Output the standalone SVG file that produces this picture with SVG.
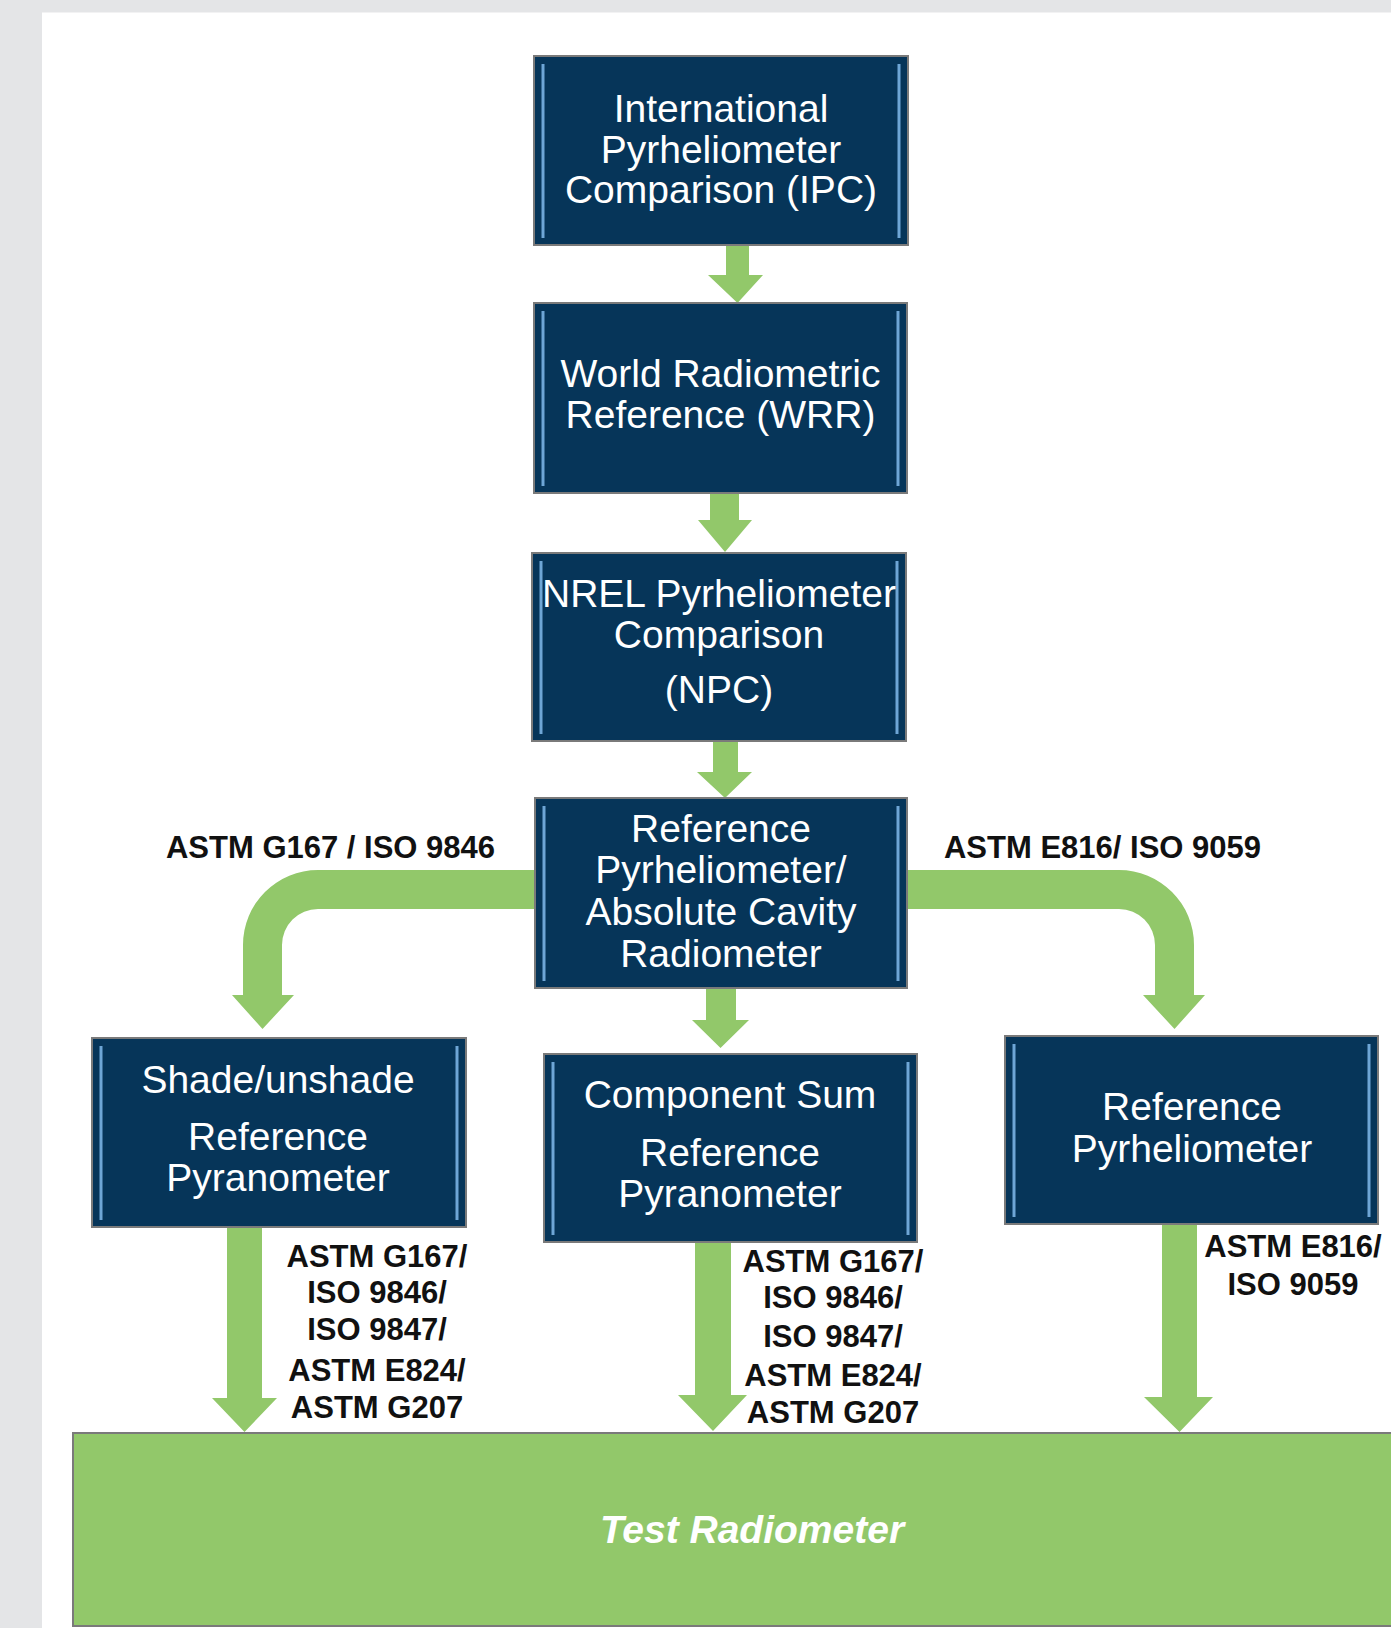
<svg xmlns="http://www.w3.org/2000/svg" width="1391" height="1628" viewBox="0 0 1391 1628">
<defs>
<style>
.box{fill:#063559;stroke:#7a7a7a;stroke-width:2}
.hl{stroke:#6ea6d6;stroke-width:3;fill:none}
.bt{font-family:"Liberation Sans",Arial,sans-serif;font-size:39px;fill:#ffffff;text-anchor:middle}
.lb{font-family:"Liberation Sans",Arial,sans-serif;font-size:31px;font-weight:bold;fill:#111111;text-anchor:middle}
.arrow{fill:#92c86a}
.test{fill:#92c86a;stroke:#7a7a7a;stroke-width:2}
.tt{font-family:"Liberation Sans",Arial,sans-serif;font-size:39px;font-weight:bold;font-style:italic;fill:#ffffff;text-anchor:middle}
</style>
</defs>
<rect x="0" y="0" width="1391" height="1628" fill="#e4e5e7"/>
<rect x="42" y="12.5" width="1349" height="1616" fill="#ffffff"/>

<g id="connectors">
<polygon class="arrow" points="726,245 749,245 749,275 763,275 737.5,303 708,275 726,275"/>
<polygon class="arrow" points="710,493 739,493 739,520 752,520 725,552 698,520 710,520"/>
<polygon class="arrow" points="713,741 738,741 738,772 752,772 725,798 697,772 713,772"/>
<polygon class="arrow" points="706,988 736,988 736,1020 749,1020 720.5,1048 692,1020 706,1020"/>
<path class="arrow" d="M 534 870 L 318 870 A 75 75 0 0 0 243 945 L 243 995 L 232 995 L 262.5 1029 L 294 995 L 282 995 L 282 945 A 36 36 0 0 1 318 909 L 534 909 Z"/>
<path class="arrow" d="M 906 870 L 1119 870 A 75 75 0 0 1 1194 945 L 1194 995 L 1205 995 L 1174.5 1029 L 1143 995 L 1155 995 L 1155 945 A 36 36 0 0 0 1119 909 L 906 909 Z"/>
<polygon class="arrow" points="227,1227 262,1227 262,1398 277,1398 244.5,1432 212,1398 227,1398"/>
<polygon class="arrow" points="695,1242 731,1242 731,1395 747,1395 713,1431 678,1395 695,1395"/>
<polygon class="arrow" points="1162,1224 1197,1224 1197,1397 1213,1397 1179.5,1432 1144,1397 1162,1397"/>
<text class="lb" x="330.5" y="858">ASTM G167 / ISO 9846</text>
<text class="lb" x="1102.5" y="858">ASTM E816/ ISO 9059</text>
<text class="lb" x="377" y="1267">ASTM G167/</text>
<text class="lb" x="377" y="1303">ISO 9846/</text>
<text class="lb" x="377" y="1340">ISO 9847/</text>
<text class="lb" x="377" y="1381">ASTM E824/</text>
<text class="lb" x="377" y="1418">ASTM G207</text>
<text class="lb" x="833" y="1272">ASTM G167/</text>
<text class="lb" x="833" y="1308">ISO 9846/</text>
<text class="lb" x="833" y="1347">ISO 9847/</text>
<text class="lb" x="833" y="1386">ASTM E824/</text>
<text class="lb" x="833" y="1423">ASTM G207</text>
<text class="lb" x="1293" y="1257">ASTM E816/</text>
<text class="lb" x="1293" y="1295">ISO 9059</text>
</g>

<g id="ipc">
<rect class="box" x="534" y="56" width="374" height="189"/>
<line class="hl" x1="543" y1="64" x2="543" y2="238"/>
<line class="hl" x1="899" y1="64" x2="899" y2="238"/>
<text class="bt" x="721" y="122">International</text>
<text class="bt" x="721" y="163">Pyrheliometer</text>
<text class="bt" x="721" y="203">Comparison (IPC)</text>
</g>

<g id="wrr">
<rect class="box" x="534" y="303" width="373" height="190"/>
<line class="hl" x1="543" y1="311" x2="543" y2="486"/>
<line class="hl" x1="898" y1="311" x2="898" y2="486"/>
<text class="bt" x="720.5" y="387">World Radiometric</text>
<text class="bt" x="720.5" y="428">Reference (WRR)</text>
</g>

<g id="npc">
<rect class="box" x="532" y="553" width="374" height="188"/>
<line class="hl" x1="541" y1="561" x2="541" y2="734"/>
<line class="hl" x1="897" y1="561" x2="897" y2="734"/>
<text class="bt" x="719" y="607">NREL Pyrheliometer</text>
<text class="bt" x="719" y="648">Comparison</text>
<text class="bt" x="719" y="703">(NPC)</text>
</g>

<g id="acr">
<rect class="box" x="535" y="798" width="372" height="190"/>
<line class="hl" x1="544" y1="806" x2="544" y2="981"/>
<line class="hl" x1="898" y1="806" x2="898" y2="981"/>
<text class="bt" x="721" y="842">Reference</text>
<text class="bt" x="721" y="883">Pyrheliometer/</text>
<text class="bt" x="721" y="925">Absolute Cavity</text>
<text class="bt" x="721" y="967">Radiometer</text>
</g>

<g id="shade">
<rect class="box" x="92" y="1038" width="374" height="189"/>
<line class="hl" x1="101" y1="1046" x2="101" y2="1220"/>
<line class="hl" x1="457" y1="1046" x2="457" y2="1220"/>
<text class="bt" x="278" y="1093">Shade/unshade</text>
<text class="bt" x="278" y="1150">Reference</text>
<text class="bt" x="278" y="1191">Pyranometer</text>
</g>

<g id="compsum">
<rect class="box" x="544" y="1054" width="373" height="188"/>
<line class="hl" x1="553" y1="1062" x2="553" y2="1235"/>
<line class="hl" x1="908" y1="1062" x2="908" y2="1235"/>
<text class="bt" x="730" y="1108">Component Sum</text>
<text class="bt" x="730" y="1166">Reference</text>
<text class="bt" x="730" y="1207">Pyranometer</text>
</g>

<g id="refpyrh">
<rect class="box" x="1005" y="1036" width="373" height="188"/>
<line class="hl" x1="1014" y1="1044" x2="1014" y2="1217"/>
<line class="hl" x1="1369" y1="1044" x2="1369" y2="1217"/>
<text class="bt" x="1192" y="1120">Reference</text>
<text class="bt" x="1192" y="1162">Pyrheliometer</text>
</g>

<g id="test">
<rect class="test" x="73" y="1433" width="1330" height="193"/>
<text class="tt" x="752" y="1543">Test Radiometer</text>
</g>
</svg>
